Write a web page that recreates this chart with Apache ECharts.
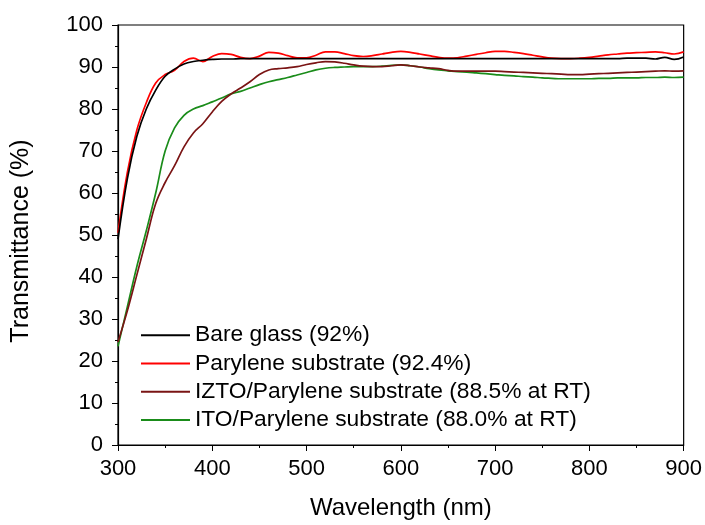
<!DOCTYPE html>
<html>
<head>
<meta charset="utf-8">
<script src="https://cdn.jsdelivr.net/npm/echarts@6/dist/echarts.min.js"></script>
<style>
html,body{margin:0;padding:0;background:#fff;}
#chart{width:705px;height:525px;}
</style>
</head>
<body>
<div id="chart"></div>
<script>
const wavelength = [300,310,320,330,340,350,360,370,380,390,400,410,420,430,440,450,460,470,480,490,500,510,520,530,540,550,560,570,580,590,600,610,620,630,640,650,660,670,680,690,700,710,720,730,740,750,760,770,780,790,800,810,820,830,840,850,860,870,880,890,900];
const bareGlass = [49,63.5,73.5,80,84.5,87.8,89.5,90.7,91.3,91.6,91.8,91.9,91.9,92,92,92,92,92,92,92,92,92,92,92,92,92,92,92,92,92,92,92,92,92,92,92,92,92,92,92,92,92,92,92,92,92,92,92,92,92,92,92,92,92,92.1,92.1,92.1,91.9,92.3,91.8,92.4];
const parylene = [50.5,65,75,81.5,86.2,88.2,89.2,91.3,92.1,91.3,92.5,93.2,93.0,92.3,92.0,92.6,93.5,93.3,92.7,92.2,92.2,92.8,93.6,93.6,93.2,92.7,92.5,92.7,93.1,93.5,93.7,93.5,93.1,92.7,92.3,92.1,92.2,92.6,93.0,93.4,93.7,93.7,93.5,93.2,92.8,92.4,92.1,92.0,92.0,92.1,92.3,92.6,92.9,93.1,93.3,93.4,93.5,93.6,93.4,93.1,93.6];
const izto = [24.5,32,40.5,49,57.5,62.5,66.5,71,74.3,76.5,79.3,81.8,83.6,85,86.5,88.2,89.3,89.6,89.8,90.1,90.6,91.0,91.3,91.2,90.9,90.5,90.2,90.1,90.1,90.3,90.5,90.3,90.0,89.8,89.6,89.2,89.0,89.0,89.0,89.0,89.0,88.9,88.8,88.7,88.6,88.5,88.4,88.3,88.2,88.2,88.3,88.4,88.5,88.6,88.7,88.8,88.9,89.0,89.1,89.0,89.1];
const ito = [23.5,33,42.5,51,60,70,75.5,78.5,80,80.8,81.7,82.6,83.6,84.2,85,85.8,86.5,87,87.5,88.1,88.7,89.3,89.7,89.9,90.0,90.1,90.1,90.1,90.2,90.4,90.5,90.3,90.0,89.6,89.3,89.1,88.9,88.8,88.6,88.4,88.2,88.0,87.9,87.7,87.6,87.4,87.3,87.2,87.2,87.2,87.2,87.3,87.3,87.4,87.4,87.4,87.5,87.5,87.6,87.5,87.6];
const seriesNames = ['Bare glass (92%)','Parylene substrate (92.4%)','IZTO/Parylene substrate (88.5% at RT)','ITO/Parylene substrate (88.0% at RT)'];
const seriesColors = ['#000000','#ff0000','#7a1414','#1a8c1a'];
const seriesValues = [bareGlass, parylene, izto, ito];

const FONT = '"Liberation Sans", Arial, sans-serif';
const chart = echarts.init(document.getElementById('chart'), null, {renderer:'canvas'});
const option = {
  animation:false,
  backgroundColor:'#fff',
  grid:{left:118, right:19.5, top:25, bottom:77, show:true, borderColor:'#000', borderWidth:1.2},
  legend:{
    left:141, top:321, orient:'vertical', padding:0,
    itemWidth:49, itemHeight:2, itemGap:0, icon:'rect',
    textStyle:{fontFamily:FONT, fontSize:22.8, color:'#000', lineHeight:28.3},
    data:seriesNames
  },
  xAxis:{
    type:'value', min:300, max:900, interval:100,
    name:'Wavelength (nm)', nameLocation:'middle', nameGap:51,
    nameTextStyle:{fontFamily:FONT, fontSize:24, color:'#000'},
    axisLine:{show:true, onZero:false, lineStyle:{color:'#000', width:1.2}},
    axisTick:{show:true, inside:false, length:6, lineStyle:{color:'#000'}},
    minorTick:{show:true, splitNumber:2, length:3, lineStyle:{color:'#000'}},
    axisLabel:{fontFamily:FONT, fontSize:22, color:'#000', margin:13},
    splitLine:{show:false}
  },
  yAxis:{
    type:'value', min:0, max:100, interval:10,
    name:'Transmittance (%)', nameLocation:'middle', nameGap:84,
    nameTextStyle:{fontFamily:FONT, fontSize:25, color:'#000', padding:[0,12,0,0]},
    axisLine:{show:true, onZero:false, lineStyle:{color:'#000', width:1.2}},
    axisTick:{show:true, inside:false, length:6, lineStyle:{color:'#000'}},
    minorTick:{show:true, splitNumber:2, length:3, lineStyle:{color:'#000'}},
    axisLabel:{fontFamily:FONT, fontSize:22, color:'#000', margin:15},
    splitLine:{show:false}
  },
  series: seriesNames.map((n,i)=>({
    name:n, type:'line', smooth:0.4, symbol:'none', showSymbol:false,
    lineStyle:{color:seriesColors[i], width:1.7},
    itemStyle:{color:seriesColors[i]},
    z: 10-i,
    data: wavelength.map((w,j)=>[w, seriesValues[i][j]])
  }))
};
chart.setOption(option);
</script>
</body>
</html>
